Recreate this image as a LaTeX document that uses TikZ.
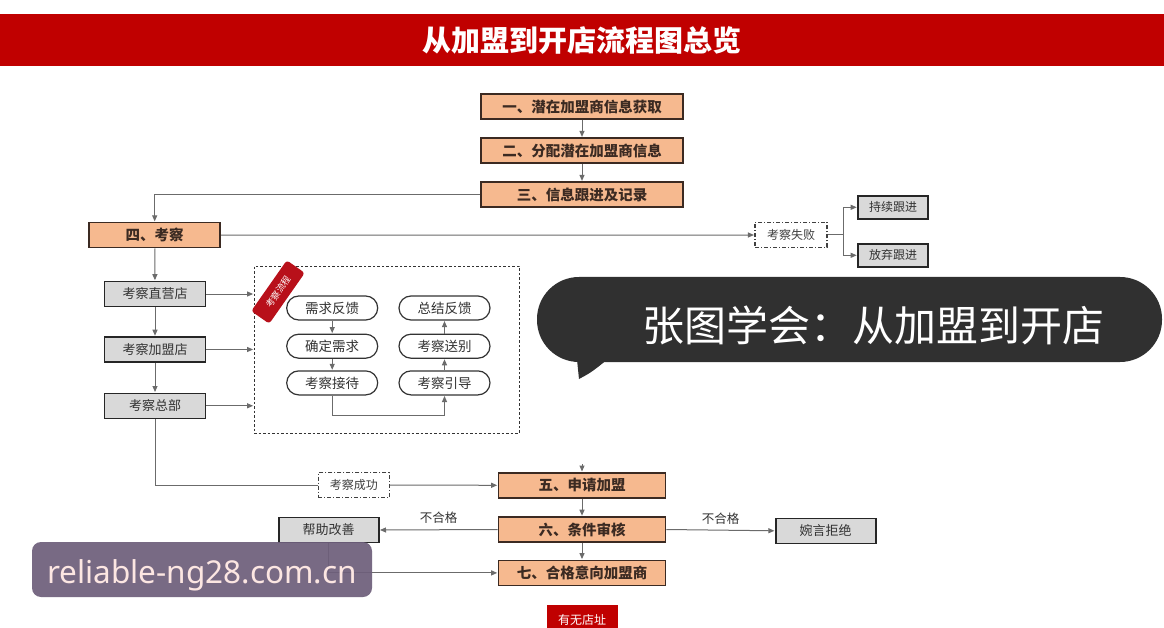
\documentclass[tikz,border=0pt]{standalone}
\usepackage{fontspec}
\setmainfont{Noto Sans CJK SC}
\newfontfamily\latinfont{Noto Sans}
\usetikzlibrary{arrows.meta}

\definecolor{bandred}{HTML}{C00000}
\definecolor{stagefill}{HTML}{F6B98F}
\definecolor{stageline}{HTML}{3B2A22}
\definecolor{greyfill}{HTML}{D9D9D9}
\definecolor{wirecol}{HTML}{6B6B6B}
\definecolor{tagred}{HTML}{B8101A}
\definecolor{bubblecol}{HTML}{303030}
\definecolor{markcol}{HTML}{6E5F7B}
\definecolor{marktext}{HTML}{FCE6E2}

\tikzset{
  stagebox/.style={draw=stageline, line width=1.6pt, fill=stagefill, inner sep=0pt,
    minimum width=202pt, minimum height=25pt, text=stageline,
    font=\fontsize{14.5pt}{15pt}\selectfont\bfseries},
  greybox/.style={draw=black!85, line width=1.6pt, fill=greyfill, inner sep=0pt,
    minimum width=101pt, minimum height=25pt, text=black!80,
    font=\fontsize{13pt}{14pt}\selectfont},
  roundbox/.style={draw=black!80, line width=1.2pt, fill=white, inner sep=0pt,
    rounded corners=12pt, minimum width=91pt, minimum height=24pt, text=black!80,
    font=\fontsize{13.5pt}{14pt}\selectfont},
  dotbox/.style={draw=black!75, line width=1.1pt, fill=white, inner sep=0pt,
    dash pattern=on 4pt off 2pt on 1pt off 2pt, minimum width=71pt, minimum height=25pt,
    text=black!75, font=\fontsize{12pt}{13pt}\selectfont},
  panel/.style={draw=black!80, line width=1.2pt, dash pattern=on 2.5pt off 2pt},
  tagbox/.style={fill=tagred, rounded corners=3pt, inner sep=0pt, minimum width=62pt,
    minimum height=22pt, text=white, font=\fontsize{9pt}{9pt}\selectfont},
  wire/.style={draw=wirecol, line width=1pt},
  arr/.style={wire, -{Triangle[length=6pt,width=5pt]}, shorten >=0.5pt},
  lbl/.style={text=black!80, font=\fontsize{12.5pt}{13pt}\selectfont}
}

\begin{document}
\begin{tikzpicture}[x=1pt, y=-1pt]
    \useasboundingbox (0,0) rectangle (1164,628);
    \fill[white] (0,0) rectangle (1164,628);
    \fill[bandred] (0,14) rectangle (1164,66);
    \node (title) at (582,40) [text=white, font=\fontsize{29pt}{29pt}\selectfont\bfseries] {从加盟到开店流程图总览};

    \node (s1) at (582,106.5) [stagebox] {一、潜在加盟商信息获取};
    \node (s2) at (582,150.7) [stagebox] {二、分配潜在加盟商信息};
    \node (s3) at (582,194.7) [stagebox] {三、信息跟进及记录};
    \node (s4) at (154.7,235.2) [stagebox, minimum width=131pt] {四、考察};
    \node (s5) at (582,485.3) [stagebox, minimum width=167pt] {五、申请加盟};
    \node (s6) at (582,529.5) [stagebox, minimum width=167pt] {六、条件审核};
    \node (s7) at (582,572.9) [stagebox, minimum width=167pt] {七、合格意向加盟商};

    \node (fail)  at (791,235)   [dotbox, minimum width=72pt] {考察失败};
    \node (keep)  at (893,207.3) [greybox, minimum width=70pt, minimum height=23pt, font=\fontsize{12pt}{13pt}\selectfont] {持续跟进};
    \node (drop)  at (893,255.3) [greybox, minimum width=70pt, minimum height=23pt, font=\fontsize{12pt}{13pt}\selectfont] {放弃跟进};
    \coordinate (fork) at (843,235);

    \node (direct) at (155,294)   [greybox] {考察直营店};
    \node (franch) at (155,349.5) [greybox] {考察加盟店};
    \node (hq)     at (155,405.8) [greybox] {考察总部};

    \node (box) at (386.7,349.7) [panel, minimum width=265pt, minimum height=167pt] {};
    \node (need)    at (332.2,308)   [roundbox] {需求反馈};
    \node (confirm) at (332.2,346.2) [roundbox] {确定需求};
    \node (host)    at (332.2,382.9) [roundbox] {考察接待};
    \node (recap)   at (444.5,308)   [roundbox] {总结反馈};
    \node (farewell) at (444.5,346.2) [roundbox] {考察送别};
    \node (guide)   at (444.5,382.9) [roundbox] {考察引导};
    \node (tag) at (278,292) [tagbox, rotate=55] {考察流程};

    \node (ok)     at (353.8,485)   [dotbox] {考察成功};
    \node (help)   at (328.7,530)   [greybox, minimum width=100pt] {帮助改善};
    \node (reject) at (825.7,530.8) [greybox, minimum width=100pt] {婉言拒绝};
    \node (site)   at (582,620)     [fill=bandred, minimum width=71pt, minimum height=30pt, text=white, font=\fontsize{12pt}{13pt}\selectfont] {有无店址};
    \coordinate (in5) at (582,464);

    \draw[arr] (s1) -- (s2);
    \draw[arr] (s2) -- (s3);
    \draw[arr] (s3.west) -| (s4.north);
    \draw[arr] (s4.east) -- (fail.west);
    \draw[wire] (fail.east) -- (fork);
    \draw[arr] (fork) |- (keep.west);
    \draw[arr] (fork) |- (drop.west);

    \draw[arr] (s4) -- (direct);
    \draw[arr] (direct) -- (franch);
    \draw[arr] (franch) -- (hq);
    \draw[arr] (direct.east) -- (direct.east -| box.west);
    \draw[arr] (franch.east) -- (franch.east -| box.west);
    \draw[arr] (hq.east) -- (hq.east -| box.west);

    \draw[arr] (need) -- (confirm);
    \draw[arr] (confirm) -- (host);
    \draw[arr] (host.south) -- ++(0,20) -| (guide.south);
    \draw[arr] (guide) -- (farewell);
    \draw[arr] (farewell) -- (recap);

    \draw[wire] (hq.south) |- (ok.west);
    \draw[arr] (ok.east) -- (s5.west);
    \draw[arr] (in5) -- (s5.north);
    \draw[arr] (s5) -- (s6);
    \draw[arr] (s6) -- (s7);
    \draw[arr] (s6.west) to node[lbl, above=2pt] {不合格} (help.east);
    \draw[arr] (s6.east) to node[lbl, above=2pt] {不合格} (reject.west);
    \draw[arr] (help.south) |- (s7.west);

    % overlays printed on the picture
    \fill[bubblecol, rounded corners=42pt] (537,277) rectangle (1162,362);
    \fill[bubblecol] (576,350) -- (579,379) .. controls (592,372) .. (614,354) -- cycle;
    \node (bubble) at (873,325) [text=white, font=\fontsize{42pt}{42pt}\selectfont] {张图学会：从加盟到开店};
    \fill[markcol, rounded corners=9pt, fill opacity=0.93] (32,542) rectangle (372,597);
    \node (mark) at (202,583) [anchor=base, text=marktext, font=\latinfont\fontsize{31.5pt}{32pt}\selectfont] {reliable-ng28.com.cn};
\end{tikzpicture}
\end{document}
